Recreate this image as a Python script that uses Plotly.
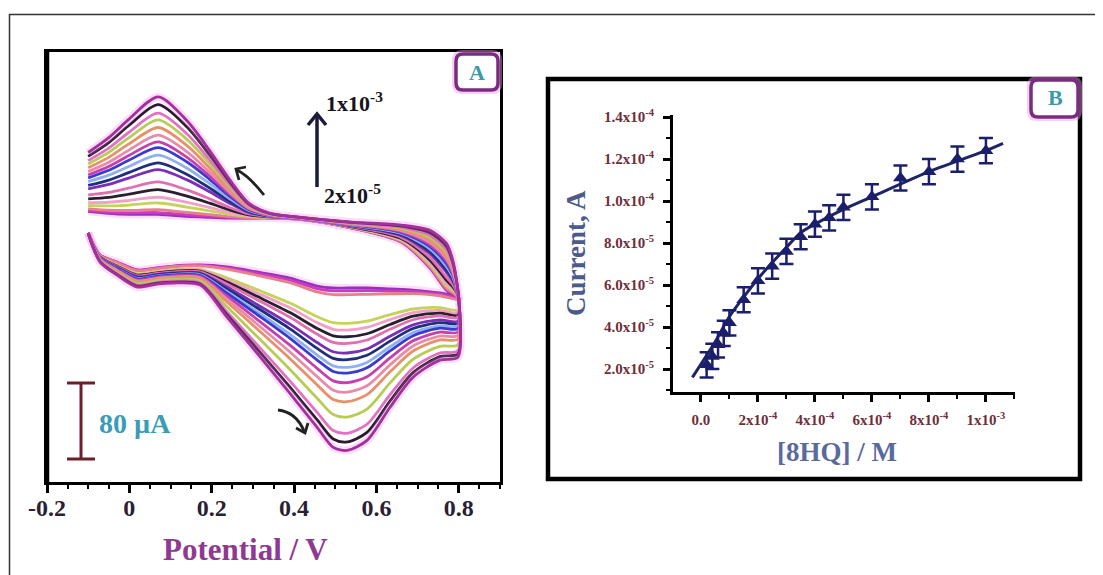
import plotly.graph_objects as go

W, H = 1103, 575
OFF = 8  # page body margin offset compensation (pixels)

# ---------------- Panel A data (cyclic voltammograms, current in µA) ----------------
V_lo = [-0.10, -0.071, -0.030, 0.019, 0.067, 0.106, 0.172, 0.237, 0.310, 0.390,
        0.456, 0.495, 0.529, 0.577, 0.633, 0.689, 0.754, 0.798]
lo_inner = [35.6, 12.6, 5.2, -3.1, -1.0, 1.0, 2.1, 0.0, -5.2, -11.5,
            -19.9, -22.0, -22.0, -22.0, -23.0, -24.1, -27.2, -31.4]
lo_outer = [35.6, 5.2, -8.4, -20.9, -17.8, -16.7, -18.8, -52.3, -90.0, -131.9,
            -167.5, -188.4, -191.6, -181.1, -146.5, -115.1, -97.3, -94.2]

V_up = [0.800, 0.795, 0.785, 0.770, 0.730, 0.660, 0.540, 0.410, 0.340, 0.290,
        0.245, 0.195, 0.140, 0.070, 0.000, -0.050, -0.100]
up_outer = [-34.5, -15.0, 8.0, 25.1, 38.7, 44.0, 47.1, 52.3, 56.5, 67.0,
            91.0, 122.4, 153.8, 179.0, 155.9, 136.0, 120.3]
up_inner = [-32.4, -30.3, -28.0, -24.1, -1.0, 26.2, 40.8, 50.2, 51.3, 51.3,
            51.3, 52.3, 53.4, 55.5, 55.5, 56.5, 58.6]

# peak currents of each voltammogram (ascending 8HQ concentration), µA
anodic_peak = [55, 57, 60, 67, 73, 81, 89, 102, 109, 117, 125, 131, 138, 146, 154, 161, 170, 178]
cathodic_peak = [-22, -25, -29, -59, -66, -73, -80, -90, -97, -105, -111, -121, -131, -141,
                 -157, -174, -183, -192]
cv_colors = ["#9a2fc0", "#c83cbf", "#e8808a", "#c5d35a", "#f2a0c8", "#2a1f2f", "#e070b0",
             "#7a2fb8", "#1f2f7a", "#8fb0f0", "#3a3ad0", "#c43fb0", "#e88aa8", "#e8906a",
             "#b8cc55", "#e470c4", "#2b1a30", "#a52f9e"]

# ---------------- Panel B data ----------------
conc = [2e-5, 4e-5, 6e-5, 8e-5, 1e-4, 1.5e-4, 2e-4, 2.5e-4, 3e-4, 3.5e-4, 4e-4, 4.5e-4,
        5e-4, 6e-4, 7e-4, 8e-4, 9e-4, 1e-3]
current = [2.2e-5, 2.6e-5, 3.15e-5, 3.7e-5, 4.2e-5, 5.3e-5, 6.2e-5, 6.9e-5, 7.6e-5, 8.3e-5,
           8.9e-5, 9.2e-5, 9.7e-5, 1.02e-4, 1.11e-4, 1.14e-4, 1.2e-4, 1.24e-4]
current_err = [6e-6] * 18
fit_x = [-3e-5, 5e-5, 1e-4, 2e-4, 3e-4, 3.5e-4, 4e-4, 5e-4, 6e-4, 8e-4, 1.0e-3, 1.06e-3]
fit_y = [1.6e-5, 3.3e-5, 4.5e-5, 6.3e-5, 7.8e-5, 8.5e-5, 8.9e-5, 9.6e-5, 1.02e-4, 1.14e-4,
         1.24e-4, 1.275e-4]

xA_ticks = [-0.2, 0, 0.2, 0.4, 0.6, 0.8]
xA_text = ["-0.2", "0", "0.2", "0.4", "0.6", "0.8"]
xB_ticks = [0, 2e-4, 4e-4, 6e-4, 8e-4, 1e-3]
xB_text = ["0.0", "2x10<sup>-4</sup>", "4x10<sup>-4</sup>", "6x10<sup>-4</sup>",
           "8x10<sup>-4</sup>", "1x10<sup>-3</sup>"]
yB_ticks = [2e-5, 4e-5, 6e-5, 8e-5, 1e-4, 1.2e-4, 1.4e-4]
yB_text = ["2.0x10<sup>-5</sup>", "4.0x10<sup>-5</sup>", "6.0x10<sup>-5</sup>",
           "8.0x10<sup>-5</sup>", "1.0x10<sup>-4</sup>", "1.2x10<sup>-4</sup>",
           "1.4x10<sup>-4</sup>"]

SERIF = "Liberation Serif"


def X(px):
    return (px - OFF) / W


def Y(py):
    return 1 - (py - OFF) / H


fig = go.Figure()

# ---- Panel A curves ----
iu = V_up.index(0.070)
il = V_lo.index(0.529)
n = len(anodic_peak)
for k in range(n):
    fa = (anodic_peak[k] - up_inner[iu]) / (up_outer[iu] - up_inner[iu])
    fc = (cathodic_peak[k] - lo_inner[il]) / (lo_outer[il] - lo_inner[il])
    lo = [a + fc * (b - a) for a, b in zip(lo_inner, lo_outer)]
    up = [a + fa * (b - a) for a, b in zip(up_inner, up_outer)]
    xs = V_lo + V_up
    ys = lo + up
    if k in (0, n - 1):
        fig.add_trace(go.Scatter(x=xs, y=ys, mode="lines", xaxis="x", yaxis="y",
                                 line=dict(color="rgba(240,120,225,0.25)", width=8,
                                           shape="spline", smoothing=0.8),
                                 showlegend=False, hoverinfo="skip"))
    fig.add_trace(go.Scatter(x=xs, y=ys, mode="lines", xaxis="x", yaxis="y",
                             line=dict(color=cv_colors[k], width=2.8, shape="spline",
                                       smoothing=0.8),
                             showlegend=False))

# ---- Panel B ----
fig.add_trace(go.Scatter(x=fit_x, y=fit_y, mode="lines", xaxis="x2", yaxis="y2",
                         line=dict(color="#1e2466", width=3, shape="spline", smoothing=0.6),
                         showlegend=False))
fig.add_trace(go.Scatter(x=conc, y=current, mode="markers", xaxis="x2", yaxis="y2",
                         marker=dict(symbol="triangle-up", size=13, color="#1b1f6b"),
                         error_y=dict(type="data", array=current_err, visible=True,
                                      color="#1b1f6b", thickness=2.5, width=7),
                         showlegend=False))

tickfontA = dict(family=SERIF, size=24, color="#2a1f33", weight="bold")
tickfontB = dict(family=SERIF, size=15, color="#6e2f3a", weight="bold")

fig.update_layout(
    width=W, height=H, margin=dict(l=0, r=0, t=0, b=0, pad=0, autoexpand=False),
    paper_bgcolor="white", plot_bgcolor="white",
    xaxis=dict(domain=[X(47), X(500)], range=[-0.2, 0.9], anchor="y",
               tickvals=xA_ticks, ticktext=xA_text, tickfont=tickfontA,
               ticks="outside", ticklen=8, tickwidth=2.5, tickcolor="black",
               ticklabelstandoff=-6,
               minor=dict(ticks="outside", ticklen=4, tickwidth=2, dtick=0.05, tick0=-0.2,
                          tickcolor="black"),
               showline=True, linewidth=3, linecolor="black", mirror=True,
               showgrid=False, zeroline=False, automargin=False),
    yaxis=dict(domain=[Y(482), Y(52)], range=[-225, 225], anchor="x",
               showticklabels=False, ticks="", showline=True, linewidth=3,
               linecolor="black", mirror=True, showgrid=False, zeroline=False,
               automargin=False),
    xaxis2=dict(domain=[X(673), X(1015)], range=[-0.98e-4, 1.102e-3], anchor="y2",
                tickvals=xB_ticks, ticktext=xB_text, tickfont=tickfontB,
                ticks="outside", ticklen=7, tickwidth=2.5, tickcolor="black",
                ticklabelstandoff=5,
                minor=dict(ticks="outside", ticklen=4, tickwidth=2, dtick=1e-4, tick0=0,
                           tickcolor="black"),
                showline=True, linewidth=3, linecolor="black", mirror=False,
                showgrid=False, zeroline=False, automargin=False),
    yaxis2=dict(domain=[Y(392), Y(115)], range=[0.905e-5, 1.41e-4], anchor="x2",
                tickvals=yB_ticks, ticktext=yB_text, tickfont=tickfontB,
                ticks="outside", ticklen=7, tickwidth=2.5, tickcolor="black",
                ticklabelstandoff=6,
                minor=dict(ticks="outside", ticklen=4, tickwidth=2, dtick=1e-5, tick0=0,
                           tickcolor="black"),
                showline=True, linewidth=3, linecolor="black", mirror=False,
                showgrid=False, zeroline=False, automargin=False),
)

shapes = []
# outer frame
shapes.append(dict(type="rect", xref="paper", yref="paper", x0=X(9.5), y0=Y(14.5),
                   x1=X(1120), y1=Y(620), line=dict(color="#333333", width=1.5)))
# thicker left line of panel A
shapes.append(dict(type="line", xref="paper", yref="paper", x0=X(47), x1=X(47),
                   y0=Y(51), y1=Y(483), line=dict(color="black", width=4.5)))
# panel B frame
shapes.append(dict(type="rect", xref="paper", yref="paper", x0=X(548), y0=Y(79),
                   x1=X(1080), y1=Y(479), line=dict(color="black", width=4.5)))


def rounded_box(x0, y0, x1, y1, r):
    p = (f"M {X(x0 + r)} {Y(y0)} L {X(x1 - r)} {Y(y0)} Q {X(x1)} {Y(y0)} {X(x1)} {Y(y0 + r)} "
         f"L {X(x1)} {Y(y1 - r)} Q {X(x1)} {Y(y1)} {X(x1 - r)} {Y(y1)} "
         f"L {X(x0 + r)} {Y(y1)} Q {X(x0)} {Y(y1)} {X(x0)} {Y(y1 - r)} "
         f"L {X(x0)} {Y(y0 + r)} Q {X(x0)} {Y(y0)} {X(x0 + r)} {Y(y0)} Z")
    return p


for (bx0, by0, bx1, by1) in [(456, 54, 498, 90), (1031, 80, 1078, 117)]:
    shapes.append(dict(type="path", xref="paper", yref="paper",
                       path=rounded_box(bx0 - 2, by0 - 2, bx1 + 2, by1 + 2, 8),
                       line=dict(color="rgba(240,150,235,0.45)", width=4)))
    shapes.append(dict(type="path", xref="paper", yref="paper",
                       path=rounded_box(bx0, by0, bx1, by1, 7), fillcolor="white",
                       line=dict(color="#7a2c80", width=3.5)))

# scale bar
SB = "#6b1f2a"
shapes.append(dict(type="line", xref="paper", yref="paper", x0=X(81), x1=X(81), y0=Y(383),
                   y1=Y(459), line=dict(color=SB, width=3)))
for yy in (383, 459):
    shapes.append(dict(type="line", xref="paper", yref="paper", x0=X(67), x1=X(95),
                       y0=Y(yy), y1=Y(yy), line=dict(color=SB, width=3)))

# vertical concentration arrow
AR = "#1a1a3a"
shapes.append(dict(type="line", xref="paper", yref="paper", x0=X(317), x1=X(317),
                   y0=Y(187), y1=Y(116), line=dict(color=AR, width=3.5)))
shapes.append(dict(type="path", xref="paper", yref="paper",
                   path=f"M {X(308)} {Y(125)} L {X(317)} {Y(114)} L {X(326)} {Y(125)}",
                   line=dict(color=AR, width=3.5)))

# curved scan-direction arrows
shapes.append(dict(type="path", xref="paper", yref="paper",
                   path=f"M {X(264)} {Y(195)} Q {X(249)} {Y(176)} {X(237)} {Y(170)}",
                   line=dict(color="#222222", width=2.8)))
shapes.append(dict(type="path", xref="paper", yref="paper",
                   path=f"M {X(239)} {Y(180)} L {X(236)} {Y(169)} L {X(246)} {Y(167)}",
                   line=dict(color="#222222", width=2.8)))
shapes.append(dict(type="path", xref="paper", yref="paper",
                   path=f"M {X(278)} {Y(410)} Q {X(296)} {Y(412)} {X(304)} {Y(431)}",
                   line=dict(color="#222222", width=2.8)))
shapes.append(dict(type="path", xref="paper", yref="paper",
                   path=f"M {X(296)} {Y(428)} L {X(305)} {Y(433)} L {X(308)} {Y(423)}",
                   line=dict(color="#222222", width=2.8)))

fig.update_layout(shapes=shapes)

ann = []


def text(px, py, s, size, color, xanchor="center", yanchor="middle", angle=0):
    ann.append(dict(x=X(px), y=Y(py), xref="paper", yref="paper", text=s, showarrow=False,
                    xanchor=xanchor, yanchor=yanchor, textangle=angle,
                    font=dict(family=SERIF, size=size, color=color, weight="bold")))


text(477, 72, "A", 22, "#3a9aa5")
text(1055, 98, "B", 22, "#3a9aa5")
text(324, 102, "1x10<sup>-3</sup>", 22, "#151520", xanchor="left")
text(322, 194, "2x10<sup>-5</sup>", 22, "#151520", xanchor="left")
text(97, 423, "80 µA", 28, "#3a9db5", xanchor="left")
text(245, 549, "Potential / V", 31, "#8e3a93")
text(837, 452, "[8HQ] / M", 27, "#5b6a9e")
text(576, 253, "Current, A", 27, "#4d5a8c", angle=-90)

fig.update_layout(annotations=ann)

fig.write_html("out.html")
